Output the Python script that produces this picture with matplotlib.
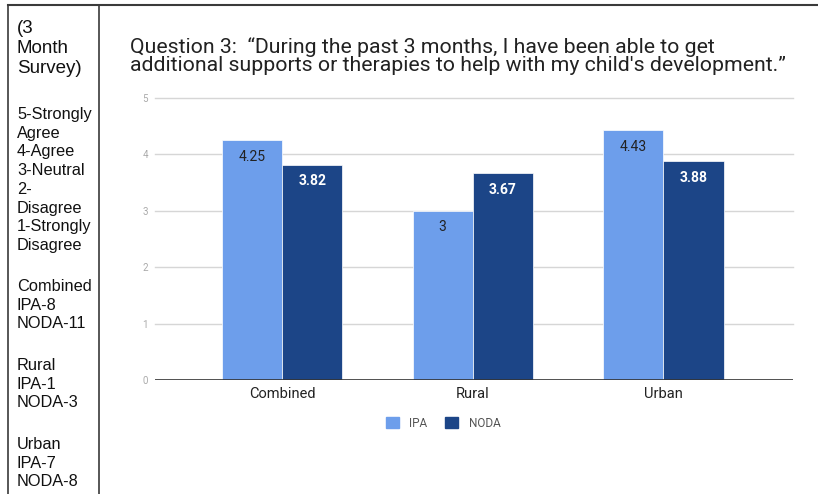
import matplotlib
matplotlib.use("Agg")
import matplotlib.pyplot as plt
import numpy as np
from matplotlib.lines import Line2D
from matplotlib.patches import Patch

categories = ["Combined", "Rural", "Urban"]
ipa = [4.25, 3.0, 4.43]
noda = [3.82, 3.67, 3.88]
ipa_labels = ["4.25", "3", "4.43"]
noda_labels = ["3.82", "3.67", "3.88"]
yticks = [0, 1, 2, 3, 4, 5]
title = "Question 3:  \u201cDuring the past 3 months, I have been able to get\nadditional supports or therapies to help with my child's development.\u201d"
side_head = "(3\nMonth\nSurvey)"
side_blocks = [
    "5-Strongly\nAgree\n4-Agree\n3-Neutral\n2-\nDisagree\n1-Strongly\nDisagree",
    "Combined\nIPA-8\nNODA-11",
    "Rural\nIPA-1\nNODA-3",
    "Urban\nIPA-7\nNODA-8",
]

W, H = 818, 494
fig = plt.figure(figsize=(W / 100, H / 100), dpi=100)

def fx(px):
    return px / W

def fy(py):
    return 1 - py / H

# table borders
bc = "#3a3a3a"
fig.add_artist(Line2D([fx(8), 1], [fy(5), fy(5)], color=bc, lw=1.5, transform=fig.transFigure))
fig.add_artist(Line2D([fx(8), fx(8)], [fy(5), 0], color=bc, lw=1.2, transform=fig.transFigure))
fig.add_artist(Line2D([fx(99), fx(99)], [fy(5), 0], color=bc, lw=1.2, transform=fig.transFigure))

# side text
sfont = ["Liberation Sans", "DejaVu Sans"]
fig.text(fx(17), fy(20), side_head, ha="left", va="top", fontsize=13.5, family=sfont,
         color="#111111", linespacing=1.23)
block_tops = [107, 279, 358, 437]
for t, yb in zip(side_blocks, block_tops):
    fig.text(fx(17), fy(yb), t, ha="left", va="top", fontsize=11.8, family=sfont,
             color="#111111", linespacing=1.31)

# title
fig.text(fx(130), fy(37), title, ha="left", va="top", fontsize=15.3, family=["Roboto", "DejaVu Sans"],
         color="#222222", linespacing=0.95)

# axes
ax = fig.add_axes([fx(155), fy(380), fx(793) - fx(155), fy(98) - fy(380)])
x = np.arange(len(categories))
bw = 0.316
c_ipa = "#6d9eeb"
c_noda = "#1c4587"
ax.bar(x - bw / 2, ipa, bw, color=c_ipa, zorder=3, edgecolor="white", linewidth=0.5)
ax.bar(x + bw / 2, noda, bw, color=c_noda, zorder=3, edgecolor="white", linewidth=0.5)

for xi, v, lab in zip(x, ipa, ipa_labels):
    ax.annotate(lab, (xi - bw / 2, v), xytext=(0, -12), textcoords="offset points",
                ha="center", va="center", fontsize=10, color="#222222",
                family=["Roboto", "DejaVu Sans"], zorder=4)
for xi, v, lab in zip(x, noda, noda_labels):
    ax.annotate(lab, (xi + bw / 2, v), xytext=(0, -12), textcoords="offset points",
                ha="center", va="center", fontsize=10, color="white", fontweight="bold",
                family=["Roboto", "DejaVu Sans"], zorder=4)

ax.set_xlim(-0.667, 2.68)
ax.set_ylim(0, 5)
ax.set_yticks(yticks)
ax.set_yticklabels([str(t) for t in yticks], fontsize=7, color="#aaaaaa", family=["Roboto", "DejaVu Sans"])
ax.set_xticks(x)
ax.set_xticklabels(categories, fontsize=10.5, color="#222222", family=["Roboto", "DejaVu Sans"])
ax.tick_params(axis="both", length=0)
ax.tick_params(axis="y", pad=5)
ax.tick_params(axis="x", pad=5)
for yt in yticks[1:]:
    ax.axhline(yt, color="#d6d6d6", lw=1, zorder=1, clip_on=False)
ax.axhline(0, color="#333333", lw=1.2, zorder=4)
for s in ax.spines.values():
    s.set_visible(False)
ax.set_facecolor("none")

handles = [Patch(facecolor=c_ipa, edgecolor=c_ipa), Patch(facecolor=c_noda, edgecolor=c_noda)]
leg = fig.legend(handles, ["IPA", "NODA"], loc="center", bbox_to_anchor=(fx(443), fy(423)),
                 ncol=2, frameon=False, handlelength=1.1, handleheight=1.1, handletextpad=0.9,
                 columnspacing=1.5, prop={"family": ["Roboto", "DejaVu Sans"], "size": 8.5})
for t in leg.get_texts():
    t.set_color("#555555")

fig.savefig("out.png", dpi=100)
